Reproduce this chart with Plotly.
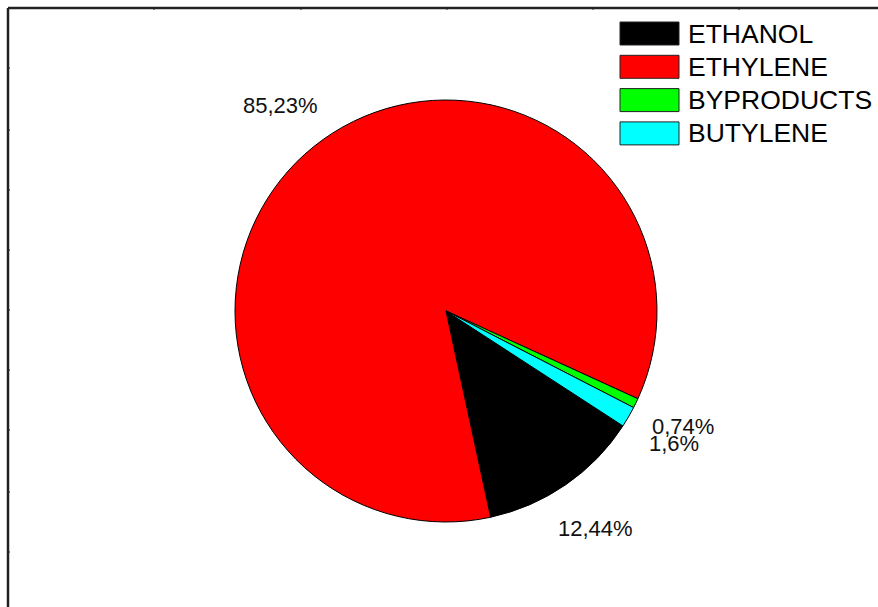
import math
import plotly.graph_objects as go

labels = ["ETHANOL", "ETHYLENE", "BYPRODUCTS", "BUTYLENE"]
values = [12.44, 85.23, 0.74, 1.6]
colors = ["#000000", "#ff0000", "#00ff00", "#00ffff"]

W, H = 878, 607
CX, CY, R = 446, 311, 211
ROT = 123


def px(x):
    return x / W


def py(y):
    return 1 - y / H


fig = go.Figure(go.Pie(
    labels=labels, values=values, sort=False, direction="clockwise",
    rotation=ROT, marker=dict(colors=colors, line=dict(color="#000000", width=1)),
    textinfo="none", hoverinfo="label+percent", showlegend=False,
    domain=dict(x=[px(CX - R), px(CX + R)], y=[py(CY + R), py(CY - R)]),
))

shapes = []
annotations = []

# percentage labels placed along each slice's mid-angle
total = sum(values)
ang = ROT
for v in values:
    span = v / total * 360
    mid = math.radians(ang + span / 2)
    lx = CX + 1.25 * R * math.sin(mid)
    ly = CY - 1.25 * R * math.cos(mid)
    annotations.append(dict(
        x=px(lx), y=py(ly), xref="paper", yref="paper", showarrow=False,
        text=f"{v:g}".replace(".", ",") + "%",
        font=dict(family="Liberation Sans, Arial", size=22, color="#111111"),
        xanchor="center", yanchor="middle",
    ))
    ang += span

# legend
for i, (lab, col) in enumerate(zip(labels, colors)):
    top = 22 + i * 33.3
    shapes.append(dict(type="rect", xref="paper", yref="paper",
                       x0=px(620), x1=px(679), y0=py(top), y1=py(top + 23),
                       fillcolor=col, line=dict(color="#222222", width=1)))
    annotations.append(dict(
        x=px(686), y=py(top + 11.5), xref="paper", yref="paper", showarrow=False,
        text=lab, xanchor="left", yanchor="middle",
        font=dict(family="Liberation Sans, Arial", size=26.5, color="#000000"),
    ))

# frame
shapes.append(dict(type="line", xref="paper", yref="paper",
                   x0=px(8), x1=px(W + 5), y0=py(8), y1=py(8),
                   line=dict(color="#222222", width=2.5)))
shapes.append(dict(type="line", xref="paper", yref="paper",
                   x0=px(8), x1=px(8), y0=py(8), y1=py(H + 5),
                   line=dict(color="#222222", width=2.5)))
for ty in [68, 130, 190, 250, 310, 370, 430, 492, 552]:
    shapes.append(dict(type="line", xref="paper", yref="paper",
                       x0=px(8), x1=px(10), y0=py(ty), y1=py(ty),
                       line=dict(color="#222222", width=1)))
for tx in [154, 301, 447, 593, 739]:
    shapes.append(dict(type="line", xref="paper", yref="paper",
                       x0=px(tx), x1=px(tx), y0=py(8), y1=py(10),
                       line=dict(color="#222222", width=1)))

fig.update_layout(
    width=W, height=H, autosize=False,
    margin=dict(l=0, r=0, t=0, b=0),
    paper_bgcolor="#ffffff", plot_bgcolor="#ffffff",
    shapes=shapes, annotations=annotations,
)

fig.write_html("out.html", config={"displayModeBar": False},
               post_script="document.body.style.margin='0';document.body.style.overflow='hidden';")
